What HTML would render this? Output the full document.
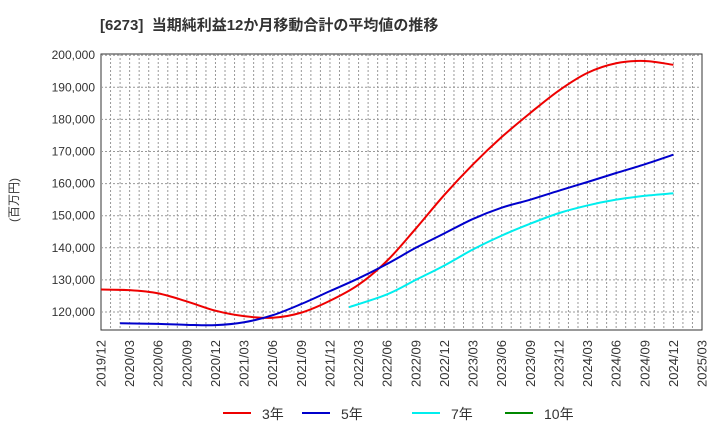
<!DOCTYPE html>
<html><head><meta charset="utf-8"><style>
body{margin:0;background:#fff;font-family:"Liberation Sans","Noto Sans CJK JP",sans-serif;}
svg text{font-family:"Liberation Sans","Noto Sans CJK JP",sans-serif;}
</style></head><body>
<svg id="c" width="720" height="440" xmlns="http://www.w3.org/2000/svg">
<text x="100" y="30" font-size="15" font-weight="bold" fill="#333" xml:space="preserve">[6273]  当期純利益12か月移動合計の平均値の推移</text>
<text transform="translate(18,200) rotate(-90)" font-size="12" text-anchor="middle" fill="#333">(百万円)</text>
<g id="grid"></g><g id="axes"></g><g id="series"></g>
<g>
<line x1="223" y1="413" x2="251" y2="413" stroke="#ee0000" stroke-width="2"/><text x="262" y="419" font-size="14" fill="#333">3年</text>
<line x1="302" y1="413" x2="330" y2="413" stroke="#0000cc" stroke-width="2"/><text x="341" y="419" font-size="14" fill="#333">5年</text>
<line x1="412" y1="413" x2="440" y2="413" stroke="#00eeee" stroke-width="2"/><text x="451" y="419" font-size="14" fill="#333">7年</text>
<line x1="505" y1="413" x2="533" y2="413" stroke="#008800" stroke-width="2"/><text x="544" y="419" font-size="14" fill="#333">10年</text>
</g>
</svg>
<script>
// months since 2019/12
const m3=[0,3,6,9,12,15,18,21,24,27,30,33,36,39,42,45,48,51,54,57,60];
const v3=[127000,126800,125800,123300,120400,118700,118200,119800,123500,128500,136000,146000,156500,166000,174500,182000,189000,194500,197500,198200,197000];
const m5=[2,6,9,12,15,18,21,24,27,30,33,36,39,42,45,48,51,54,57,60];
const v5=[116500,116300,116000,115900,116800,119000,122500,126500,130500,135000,140000,144500,149000,152500,155000,157800,160500,163300,166000,169000];
const m7=[26,30,33,36,39,42,45,48,51,54,57,60];
const v7=[121500,125500,130000,134500,139500,143800,147500,150800,153200,155000,156200,157000];
const yTicks=[120000,130000,140000,150000,160000,170000,180000,190000,200000];
const xLabels=["2019/12","2020/03","2020/06","2020/09","2020/12","2021/03","2021/06","2021/09","2021/12","2022/03","2022/06","2022/09","2022/12","2023/03","2023/06","2023/09","2023/12","2024/03","2024/06","2024/09","2024/12","2025/03"];
const L=101,R=702,T=54,B=330,Y0=120000,PY0=312,PER=32.1;
const xs=m=>L+(R-L)*m/63;
const ys=v=>PY0-(v-Y0)/10000*PER;
const NS="http://www.w3.org/2000/svg";
function el(t,a,p){const e=document.createElementNS(NS,t);for(const k in a)e.setAttribute(k,a[k]);document.getElementById(p).appendChild(e);return e;}
const bg=el('rect',{x:L,y:T,width:R-L,height:B-T,fill:'#fff',stroke:'#333','stroke-width':1},'grid');


for(let m=1;m<63;m++){const g=el('line',{x1:xs(m),x2:xs(m),y1:T,y2:B,stroke:'#999','stroke-dasharray':'2,2','stroke-width':1},'grid');

}
yTicks.forEach(v=>{const g=el('line',{x1:L,x2:R,y1:ys(v),y2:ys(v),stroke:'#999','stroke-dasharray':'2,2'},'grid');


const t=el('text',{x:L-6,y:ys(v)+4,'font-size':12,'text-anchor':'end',fill:'#333'},'axes');t.textContent=v.toLocaleString('en-US');

});
xLabels.forEach((s,i)=>{const x=xs(i*3);const t=el('text',{transform:`translate(${x+4.5},${B+10}) rotate(-90)`,'font-size':13,'text-anchor':'end',fill:'#333'},'axes');t.textContent=s;

});
function path(ms,vs){const p=ms.map((m,i)=>[xs(m),ys(vs[i])]);let d=`M${p[0][0]},${p[0][1]}`;
for(let i=0;i<p.length-1;i++){const p0=p[Math.max(0,i-1)],p1=p[i],p2=p[i+1],p3=p[Math.min(p.length-1,i+2)];
d+=` C${p1[0]+(p2[0]-p0[0])/6},${p1[1]+(p2[1]-p0[1])/6} ${p2[0]-(p3[0]-p1[0])/6},${p2[1]-(p3[1]-p1[1])/6} ${p2[0]},${p2[1]}`;}return d;}
[[m3,v3,'#ee0000','line-3y'],[m5,v5,'#0000cc','line-5y'],[m7,v7,'#00eeee','line-7y']].forEach(s=>{
const e=el('path',{d:path(s[0],s[1]),fill:'none',stroke:s[2],'stroke-width':2},'series');

});
</script>
</body></html>
